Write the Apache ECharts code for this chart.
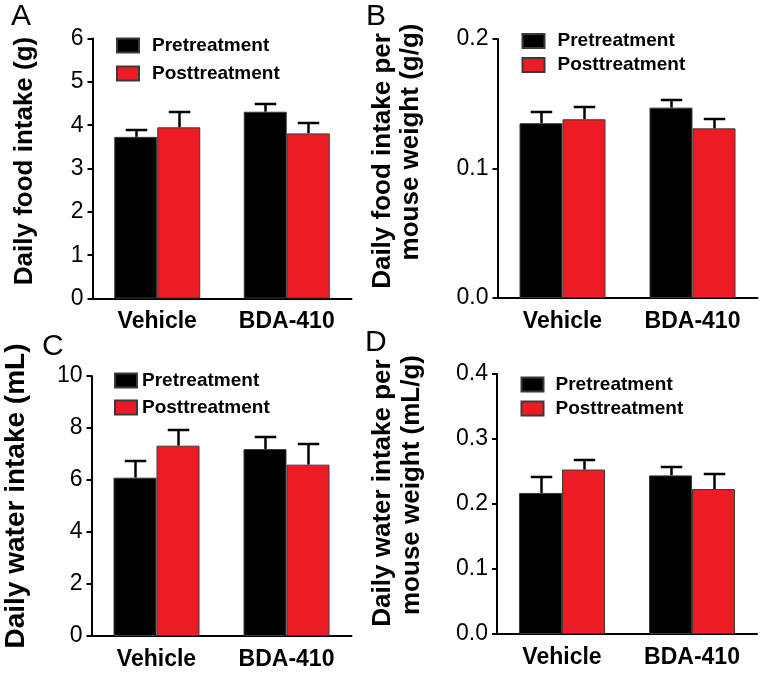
<!DOCTYPE html>
<html>
<head>
<meta charset="utf-8">
<script src="https://cdn.jsdelivr.net/npm/echarts@6/dist/echarts.min.js"></script>
<style>html,body{margin:0;padding:0;background:#fff;}#chart{width:760px;height:674px;}</style>
</head>
<body>
<div id="chart"></div>
<script>
// ---- data ----
const categories = ['Vehicle', 'BDA-410'];
const seriesNames = ['Pretreatment', 'Posttreatment'];

const foodPre = [3.73, 4.31];
const foodPreErr = [0.17, 0.18];
const foodPost = [3.95, 3.81];
const foodPostErr = [0.35, 0.23];

const foodWtPre = [0.135, 0.147];
const foodWtPreErr = [0.009, 0.006];
const foodWtPost = [0.138, 0.131];
const foodWtPostErr = [0.0095, 0.007];

const waterPre = [6.09, 7.19];
const waterPreErr = [0.65, 0.48];
const waterPost = [7.32, 6.59];
const waterPostErr = [0.61, 0.78];

const waterWtPre = [0.217, 0.244];
const waterWtPreErr = [0.024, 0.0134];
const waterWtPost = [0.253, 0.223];
const waterWtPostErr = [0.0143, 0.023];

const yMaxes = [6, 0.2, 10, 0.4];
const yIntervals = [1, 0.1, 2, 0.1];
const yDecimals = [0, 1, 0, 1];
const yTitleLines = [
  ['Daily food intake (g)'],
  ['Daily food intake per', 'mouse weight (g/g)'],
  ['Daily water intake (mL)'],
  ['Daily water intake per', 'mouse weight (mL/g)']
];
const panelLetters = ['A', 'B', 'C', 'D'];

// ---- styling ----
const FONT = "'Liberation Sans', Arial, Helvetica, sans-serif";
const BAR_W = 43;
const colors = ['#000000', '#ED1C24'];

const grids = [
  {left: 92.5, top: 38.5, width: 259, height: 260},
  {left: 497.5, top: 39, width: 260, height: 259},
  {left: 91.5, top: 376, width: 260, height: 260},
  {left: 497, top: 374, width: 260, height: 260}
];
// centre positions and sizes of rotated y titles (one entry per line)
const titleLayout = [
  [{x: 25, y: 161, size: 26}],
  [{x: 383, y: 161, size: 26}, {x: 411, y: 142, size: 26}],
  [{x: 16, y: 496, size: 28}],
  [{x: 383, y: 493, size: 26}, {x: 412, y: 485, size: 26}]
];
const legendPos = [
  {left: 116, top: 36, itemGap: 9, pad: 8},
  {left: 521.5, top: 31.5, itemGap: 5, pad: 8},
  {left: 114, top: 371, itemGap: 8, pad: 0},
  {left: 520.5, top: 375, itemGap: 5, pad: 7}
];
const letterPos = [[11, 2], [366, 2], [42, 332], [365, 328]];

const panelData = [
  [[foodPre, foodPreErr], [foodPost, foodPostErr]],
  [[foodWtPre, foodWtPreErr], [foodWtPost, foodWtPostErr]],
  [[waterPre, waterPreErr], [waterPost, waterPostErr]],
  [[waterWtPre, waterWtPreErr], [waterWtPost, waterWtPostErr]]
];

function errRender(sign) {
  return function (params, api) {
    const ci = api.value(0), m = api.value(1), e = api.value(2);
    const p0 = api.coord([ci, m]);
    const p1 = api.coord([ci, m + e]);
    const x = Math.round(p0[0] + sign * BAR_W / 2) + 0.5;
    const cap = BAR_W / 4;
    const y1 = Math.round(p1[1]);
    return {
      type: 'group',
      children: [
        {type: 'line', shape: {x1: x, y1: p0[1], x2: x, y2: y1}, style: {stroke: '#000', lineWidth: 2.5}},
        {type: 'line', shape: {x1: x - cap, y1: y1, x2: x + cap, y2: y1}, style: {stroke: '#000', lineWidth: 2.5}}
      ]
    };
  };
}

const xAxes = [], yAxes = [], series = [], legends = [], graphics = [];
for (let p = 0; p < 4; p++) {
  xAxes.push({
    type: 'category', gridIndex: p, data: categories,
    axisLine: {lineStyle: {color: '#000', width: 2}},
    axisTick: {alignWithLabel: true, length: 7, lineStyle: {color: '#000', width: 2}},
    axisLabel: {fontSize: 23, fontWeight: 'bold', color: '#000', fontFamily: FONT, margin: 12}
  });
  const dec = yDecimals[p];
  yAxes.push({
    type: 'value', gridIndex: p, min: 0, max: yMaxes[p], interval: yIntervals[p],
    axisLine: {show: true, lineStyle: {color: '#000', width: 2}},
    axisTick: {show: true, length: 5, lineStyle: {color: '#000', width: 2}},
    splitLine: {show: false},
    axisLabel: {fontSize: 23, color: '#000', fontFamily: FONT, margin: 9,
      formatter: v => v.toFixed(dec)}
  });
  for (let s = 0; s < 2; s++) {
    const [vals, errs] = panelData[p][s];
    series.push({
      type: 'bar', name: seriesNames[s], xAxisIndex: p, yAxisIndex: p,
      data: vals, barWidth: BAR_W, barGap: '0%',
      itemStyle: {color: colors[s], borderColor: '#3a3a3a', borderWidth: 1},
      emphasis: {disabled: true}, silent: true, animation: false, z: 2
    });
  }
  for (let s = 0; s < 2; s++) {
    const [vals, errs] = panelData[p][s];
    series.push({
      type: 'custom', name: 'err' + p + s, xAxisIndex: p, yAxisIndex: p,
      data: vals.map((v, i) => [i, v, errs[i]]),
      encode: {x: 0, y: 1},
      renderItem: errRender(s === 0 ? -1 : 1),
      silent: true, animation: false, z: 1
    });
  }
  const lp = legendPos[p];
  legends.push({
    orient: 'vertical', left: lp.left, top: lp.top, itemGap: lp.itemGap, padding: 0,
    itemWidth: 22, itemHeight: 14, icon: 'rect', selectedMode: false,
    data: seriesNames,
    textStyle: {fontSize: 19, fontWeight: 'bold', color: '#000', fontFamily: FONT,
      padding: [0, 0, 0, lp.pad]}
  });
  graphics.push({
    type: 'text', left: letterPos[p][0], top: letterPos[p][1],
    style: {text: panelLetters[p], fontSize: 30, fill: '#000', fontFamily: FONT}
  });
  yTitleLines[p].forEach((line, li) => {
    const t = titleLayout[p][li];
    graphics.push({
      type: 'text', x: t.x, y: t.y, rotation: Math.PI / 2,
      style: {text: line, fontSize: t.size, fontWeight: 'bold', fill: '#000', fontFamily: FONT,
        align: 'center', verticalAlign: 'middle'}
    });
  });
}

const chart = echarts.init(document.getElementById('chart'), null, {renderer: 'canvas'});
chart.setOption({
  backgroundColor: '#fff',
  animation: false,
  grid: grids,
  xAxis: xAxes,
  yAxis: yAxes,
  legend: legends,
  series: series,
  graphic: graphics
});
</script>
</body>
</html>
